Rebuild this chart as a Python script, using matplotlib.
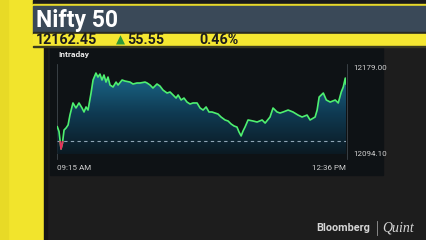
import numpy as np
import matplotlib
matplotlib.use('Agg')
import matplotlib.pyplot as plt
from matplotlib.patches import Rectangle, Polygon
from matplotlib.colors import LinearSegmentedColormap

# minutes after 09:15 and Nifty level
minutes = [0, 1.2, 2.6, 3.6, 4.7, 6.1, 7.5, 8.8, 10.9, 13.0, 15.1, 17.2, 18.6, 20.0, 21.4,
           23.5, 24.9, 26.9, 28.3, 29.7, 31.1, 32.5, 33.9, 35.3, 36.7, 38.8, 40.9, 42.3,
           45.1, 47.1, 50.6, 52.7, 55.5, 57.6, 61.1, 62.5, 64.6, 66.6, 69.4, 71.5, 73.6,
           76.4, 78.5, 80.6, 82.7, 84.1, 86.2, 88.2, 90.3, 92.4, 94.5, 97.3, 99.4, 101.5,
           103.6, 105.6, 107.7, 109.8, 111.9, 114.0, 116.8, 118.9, 121.0, 123.1, 125.1,
           126.5, 128.0, 129.3, 130.7, 132.8, 136.3, 139.1, 142.6, 144.7, 148.1, 150.2,
           153.0, 155.1, 157.2, 160.7, 164.1, 167.6, 170.4, 173.9, 176.0, 179.5, 180.9,
           182.3, 185.2, 187.3, 190.0, 193.5, 195.6, 197.7, 199.1, 200.5, 201]
levels = [12120.7, 12116.0, 12099.0, 12104.8, 12117.5, 12119.5, 12122.4, 12132.1, 12143.9,
          12139.0, 12143.9, 12139.0, 12135.1, 12140.0, 12137.0, 12153.6, 12166.3, 12173.1,
          12169.2, 12172.1, 12166.3, 12171.2, 12164.3, 12169.2, 12161.4, 12159.5, 12164.3,
          12161.4, 12166.3, 12165.3, 12164.3, 12162.4, 12163.4, 12163.4, 12164.3, 12163.4,
          12161.4, 12158.5, 12162.4, 12160.4, 12156.5, 12153.6, 12154.6, 12151.7, 12148.7,
          12151.7, 12146.8, 12148.7, 12144.8, 12142.9, 12143.9, 12143.9, 12139.0, 12137.0,
          12140.0, 12135.1, 12135.1, 12134.1, 12133.1, 12130.2, 12127.3, 12126.3, 12123.4,
          12121.4, 12120.4, 12115.6, 12111.7, 12116.5, 12120.4, 12127.3, 12126.3, 12125.3,
          12127.3, 12124.3, 12130.2, 12139.0, 12135.1, 12134.1, 12135.1, 12137.0, 12135.1,
          12132.1, 12130.2, 12132.1, 12127.3, 12130.2, 12137.0, 12149.7, 12153.6, 12146.8,
          12144.8, 12146.8, 12143.9, 12154.6, 12159.5, 12168.2, 12162.45]
prev_close = 12106.90
y_low, y_high = 12094.10, 12179.00
x_labels = ['09:15 AM', '12:36 PM']

W, H = 426, 240
fig = plt.figure(figsize=(W / 100, H / 100), dpi=100)
fig.patch.set_facecolor('#1d1d1d')

def px(x, y, w, h):
    return [x / W, 1 - (y + h) / H, w / W, h / H]

bg = fig.add_axes([0, 0, 1, 1])
bg.set_xlim(0, W)
bg.set_ylim(H, 0)
bg.axis('off')
bg.add_patch(Rectangle((0, 0), W, H, color='#1d1d1d'))
bg.add_patch(Rectangle((0, 0), 44, H, color='#f2e42c'))
bg.add_patch(Rectangle((0, 0), 8, H, color='#e8da26'))
bg.add_patch(Rectangle((44, 46), 3, H, color='#151515'))
bg.add_patch(Rectangle((50, 47), 333, 128, color='#0e1215'))
bg.add_patch(Rectangle((33, 0), W, 4, color='#1a1a1a'))
bg.add_patch(Rectangle((33, 4), W, 2, color='#e8da2a'))
bg.add_patch(Rectangle((33, 6), W, 26, color='#3a4958'))
bg.add_patch(Rectangle((33, 32), W, 1.5, color='#2a2a20'))
bg.add_patch(Rectangle((33, 33.5), W, 12.5, color='#f5e731'))
bg.add_patch(Rectangle((33, 46), W, 1, color='#3a3a20'))

bg.text(36, 20, 'Nifty 50', color='white', fontsize=16.5, fontweight='bold',
        family='Roboto', va='center', ha='left')
bg.text(36, 40, '12162.45', color='#1c1c1c', fontsize=10.3, fontweight='bold',
        family='Roboto', va='center', ha='left')
bg.text(116, 40, '\u25B2', color='#2f9a3a', fontsize=8.5, family='DejaVu Sans',
        va='center', ha='left')
bg.text(127, 40, '55.55', color='#1c1c1c', fontsize=10.3, fontweight='bold',
        family='Roboto', va='center', ha='left')
bg.text(199, 40, '0.46%', color='#1c1c1c', fontsize=10.3, fontweight='bold',
        family='Roboto', va='center', ha='left')
bg.text(58, 55, 'Intraday', color='#e8e8e8', fontsize=6, fontweight='bold',
        family='Roboto', va='center', ha='left')

# brand
bg.text(370, 228, 'Bloomberg', color='#d6d6d6', fontsize=7.8, fontweight='bold',
        family='Roboto', va='center', ha='right')
bg.plot([377, 377], [221, 235], color='#9a9a9a', lw=0.6)
bg.text(382, 228, 'Quint', color='#d6d6d6', fontsize=10, style='italic',
        family='Liberation Serif', va='center', ha='left')

# faint axis guides
bg.plot([57.3, 57.3], [64, 159], color='#4a5258', lw=0.5)
bg.plot([346.5, 346.5], [64, 159], color='#4a5258', lw=0.5)

ax = fig.add_axes(px(57.3, 67, 288.7, 87))
ax.set_facecolor('none')
ax.set_xlim(0, 201)
ax.set_ylim(y_low, y_high)
for s in ax.spines.values():
    s.set_visible(False)

xs = np.array(minutes)
ys = np.array(levels)

# gradient fill under the curve
cmap = LinearSegmentedColormap.from_list('g', ['#0b1820', '#0f3a52', '#1c6d90'])
grad = np.linspace(0, 1, 200).reshape(-1, 1)
img = ax.imshow(grad, extent=[0, 201, y_low - 2, 12176], origin='lower', aspect='auto',
                cmap=cmap, zorder=1)
poly = Polygon(np.column_stack([np.r_[xs[0], xs, xs[-1]],
                                np.r_[y_low - 2, ys, y_low - 2]]),
               closed=True, transform=ax.transData, facecolor='none', edgecolor='none')
ax.add_patch(poly)
img.set_clip_path(poly)

ax.axhline(prev_close, color='#8fa5b5', lw=0.8, ls=(0, (3, 3)), zorder=3)
ax.plot(xs, ys, color='#4ef070', lw=1.2, zorder=4)
red = ax.plot(xs, ys, color='#e8305c', lw=1.2, zorder=5)[0]
clip = Rectangle((0, y_low - 10), 201, prev_close - y_low + 10, transform=ax.transData)
red.set_clip_path(clip)

ax.yaxis.tick_right()
ax.set_yticks([y_low, y_high])
ax.set_yticklabels(['%.2f' % y_low, '%.2f' % y_high])
ax.set_xticks([0, 201])
ax.set_xticklabels(x_labels)
ax.tick_params(length=0, labelsize=5.8, labelcolor='#d0d0d0', pad=5)
ax.tick_params(axis='x', pad=8)
for lab in ax.get_yticklabels():
    lab.set_family('Roboto')
for lab, ha in zip(ax.get_xticklabels(), ['left', 'right']):
    lab.set_family('Roboto')
    lab.set_ha(ha)

fig.savefig('out.png', dpi=100, facecolor=fig.get_facecolor())
